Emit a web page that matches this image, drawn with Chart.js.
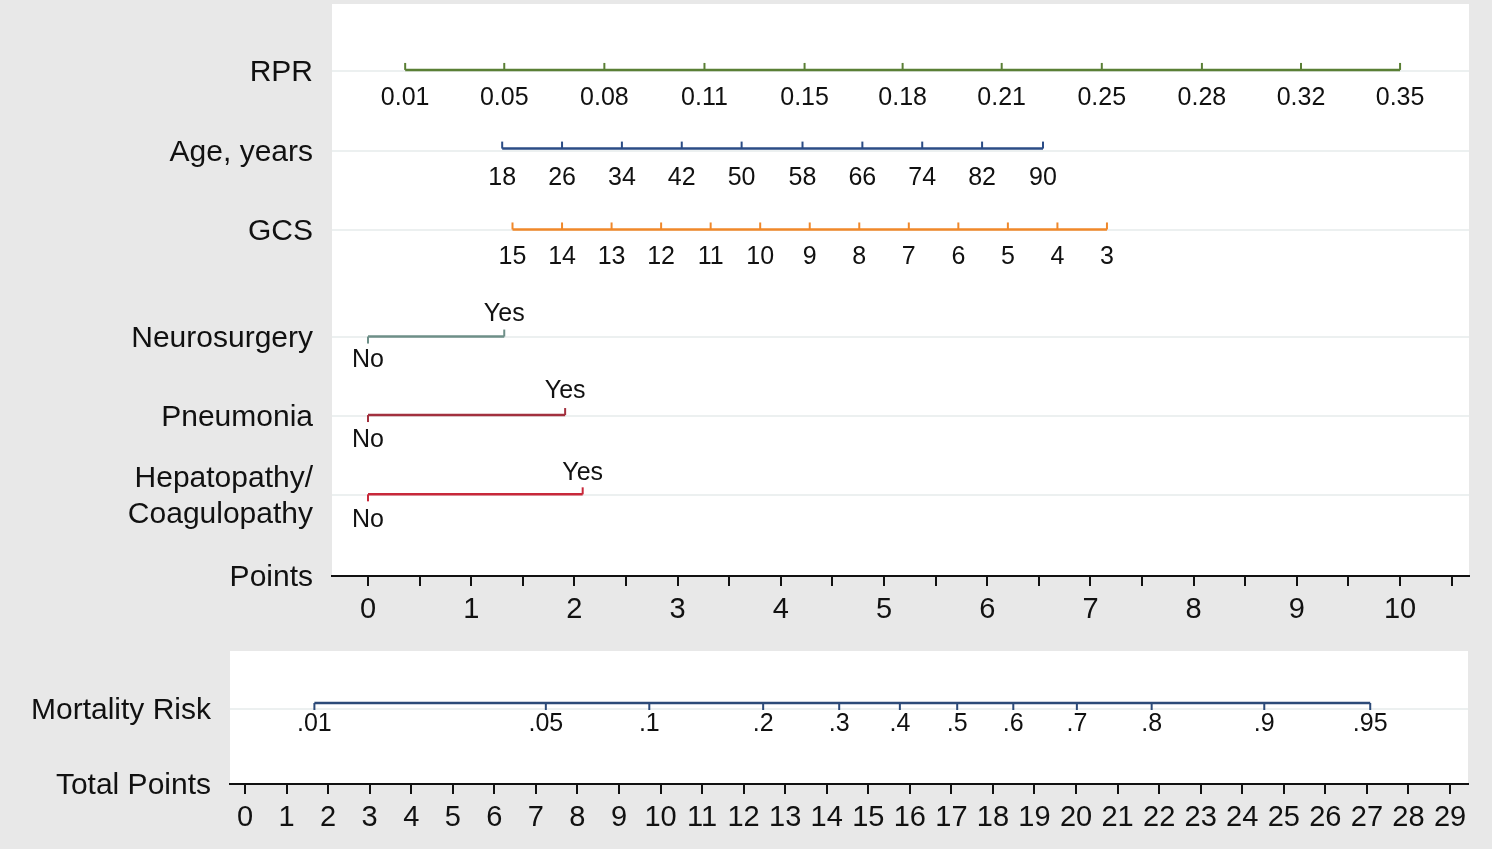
<!DOCTYPE html>
<html>
<head>
<meta charset="utf-8">
<script src="https://cdn.jsdelivr.net/npm/chart.js@4.4.1/dist/chart.umd.min.js"></script>
<style>
  html, body { margin: 0; padding: 0; background: #e8e8e8; width: 1492px; height: 849px; overflow: hidden; }
  canvas { position: absolute; left: 0; }
  #nomo { top: 0; }
  #risk { top: 640px; }
</style>
</head>
<body>
<canvas id="nomo" width="1492" height="640"></canvas>
<canvas id="risk" width="1492" height="209"></canvas>
<script>
// ---- Predictor scales: tick labels and the points each tick is worth ----
const rprLabels = ['0.01', '0.05', '0.08', '0.11', '0.15', '0.18', '0.21', '0.25', '0.28', '0.32', '0.35'];
const rprPoints = [0.36, 1.32, 2.29, 3.26, 4.23, 5.18, 6.14, 7.11, 8.08, 9.04, 10.0];

const ageLabels = ['18', '26', '34', '42', '50', '58', '66', '74', '82', '90'];
const agePoints = [1.30, 1.88, 2.46, 3.04, 3.62, 4.21, 4.79, 5.37, 5.95, 6.54];

const gcsLabels = ['15', '14', '13', '12', '11', '10', '9', '8', '7', '6', '5', '4', '3'];
const gcsPoints = [1.40, 1.88, 2.36, 2.84, 3.32, 3.80, 4.28, 4.76, 5.24, 5.72, 6.20, 6.68, 7.16];

const binaryLabels = ['No', 'Yes'];
const neurosurgeryPoints = [0, 1.32];
const pneumoniaPoints = [0, 1.91];
const hepatopathyPoints = [0, 2.08];

const pointsAxisTicks = [0, 0.5, 1, 1.5, 2, 2.5, 3, 3.5, 4, 4.5, 5, 5.5, 6, 6.5, 7, 7.5, 8, 8.5, 9, 9.5, 10, 10.5];

// ---- Outcome scale: predicted mortality against total points ----
const riskLabels = ['.01', '.05', '.1', '.2', '.3', '.4', '.5', '.6', '.7', '.8', '.9', '.95'];
const riskTotalPoints = [1.67, 7.24, 9.73, 12.47, 14.30, 15.76, 17.14, 18.49, 20.02, 21.82, 24.53, 27.08];

const totalPointsTicks = [0, 1, 2, 3, 4, 5, 6, 7, 8, 9, 10, 11, 12, 13, 14, 15, 16, 17, 18, 19, 20, 21, 22, 23, 24, 25, 26, 27, 28, 29];

const rowLabels = ['RPR', 'Age, years', 'GCS', 'Neurosurgery', 'Pneumonia', ['Hepatopathy/', 'Coagulopathy'], 'Points'];
const riskRowLabels = ['Mortality Risk', 'Total Points'];

// ---- Layout / style ----
const FONT = '"Liberation Sans", Arial, Helvetica, sans-serif';
const INK = '#111111';
const GRID = '#ecf0f0';

const rowPos = [0.843, 1.85, 2.845, 4.192, 5.186, 6.181, 7.2];
const riskRowPos = [0.436, 1];

// each row: line position, colour, per-tick direction (-1 up, +1 down) and label offset (px)
const topRows = [
  { labels: rprLabels, points: rprPoints, y: 0.83, color: '#5a7f35', dir: () => -1, off: () => 28 },
  { labels: ageLabels, points: agePoints, y: 1.82, color: '#2b4c86', dir: () => -1, off: () => 30 },
  { labels: gcsLabels, points: gcsPoints, y: 2.838, color: '#f0882a', dir: () => -1, off: () => 28 },
  { labels: binaryLabels, points: neurosurgeryPoints, y: 4.186, color: '#6e8f88', dir: i => i ? -1 : 1, off: i => i ? -22 : 24 },
  { labels: binaryLabels, points: pneumoniaPoints, y: 5.174, color: '#a2303e', dir: i => i ? -1 : 1, off: i => i ? -24 : 25 },
  { labels: binaryLabels, points: hepatopathyPoints, y: 6.172, color: '#c8283a', dir: i => i ? -1 : 1, off: i => i ? -21 : 26 }
];
const riskRows = [
  { labels: riskLabels, points: riskTotalPoints, y: 0.391, color: '#2c4a78', dir: () => 1, off: () => 21 }
];

// white plotting panel behind the rows
const panelBg = {
  id: 'panelBg',
  beforeDraw(chart) {
    const { ctx, chartArea: a } = chart;
    ctx.save();
    ctx.fillStyle = '#ffffff';
    ctx.fillRect(a.left, a.top, a.right - a.left, a.bottom - a.top);
    ctx.restore();
  }
};

// tick marks and value labels along each row, positioned through the chart scales
function rowMarks(rows, fontSize) {
  return {
    id: 'rowMarks',
    afterDatasetsDraw(chart) {
      const { ctx, scales: { x, y } } = chart;
      ctx.save();
      ctx.font = fontSize + 'px ' + FONT;
      ctx.textAlign = 'center';
      ctx.textBaseline = 'middle';
      rows.forEach(row => {
        const py = y.getPixelForValue(row.y);
        row.points.forEach((v, i) => {
          const px = x.getPixelForValue(v);
          ctx.strokeStyle = row.color;
          ctx.lineWidth = 2;
          ctx.beginPath();
          ctx.moveTo(px, py);
          ctx.lineTo(px, py + row.dir(i) * 7);
          ctx.stroke();
          ctx.fillStyle = INK;
          ctx.fillText(row.labels[i], px, py + row.off(i));
        });
      });
      ctx.restore();
    }
  };
}

function lineSets(rows) {
  return rows.map(r => ({
    data: r.points.map(v => ({ x: v, y: r.y })),
    showLine: true,
    borderColor: r.color,
    borderWidth: 2.5,
    pointRadius: 0,
    tension: 0,
    clip: false
  }));
}

function buildChart(canvas, rows, cfg) {
  return new Chart(canvas, {
    type: 'scatter',
    data: { datasets: lineSets(rows) },
    options: {
      responsive: false,
      animation: false,
      devicePixelRatio: 1,
      layout: { padding: cfg.padding },
      plugins: { legend: { display: false }, tooltip: { enabled: false } },
      scales: {
        x: {
          type: 'linear', min: cfg.xMin, max: cfg.xMax,
          afterBuildTicks: s => { s.ticks = cfg.xTicks.map(v => ({ value: v })); },
          ticks: {
            autoSkip: false, maxRotation: 0, padding: 7, color: INK,
            font: { family: FONT, size: 29 },
            callback: v => Number.isInteger(v) ? String(v) : ''
          },
          grid: { drawOnChartArea: false, drawTicks: true, tickLength: 10, color: INK, lineWidth: 2 },
          border: { display: true, color: INK, width: 2 },
          afterFit: s => { s.height = cfg.xHeight; s.paddingLeft = 0; s.paddingRight = 0; }
        },
        y: {
          type: 'linear', reverse: true, min: 0, max: cfg.yMax,
          afterBuildTicks: s => { s.ticks = cfg.yTicks.map(v => ({ value: v })); },
          ticks: {
            autoSkip: false, padding: cfg.yPad, color: INK, labelOffset: 2,
            font: { family: FONT, size: 30, lineHeight: 1.2 },
            callback: (v, i) => cfg.yLabels[i]
          },
          grid: { drawTicks: false, color: GRID, lineWidth: 2 },
          border: { display: false },
          afterFit: s => { s.width = cfg.yWidth; s.paddingTop = 0; s.paddingBottom = 0; }
        }
      }
    },
    plugins: [panelBg, rowMarks(rows, cfg.markFont)]
  });
}

buildChart(document.getElementById('nomo'), topRows, {
  padding: { top: 4, right: 23, left: 0, bottom: 0 },
  xMin: -0.349, xMax: 10.668, xTicks: pointsAxisTicks, xHeight: 64,
  yMax: 7.2, yTicks: rowPos, yLabels: rowLabels, yPad: 19, yWidth: 332,
  markFont: 25
});

buildChart(document.getElementById('risk'), riskRows, {
  padding: { top: 11, right: 24, left: 0, bottom: 0 },
  xMin: -0.361, xMax: 29.433, xTicks: totalPointsTicks, xHeight: 65,
  yMax: 1, yTicks: riskRowPos, yLabels: riskRowLabels, yPad: 19, yWidth: 230,
  markFont: 25
});
</script>
</body>
</html>
